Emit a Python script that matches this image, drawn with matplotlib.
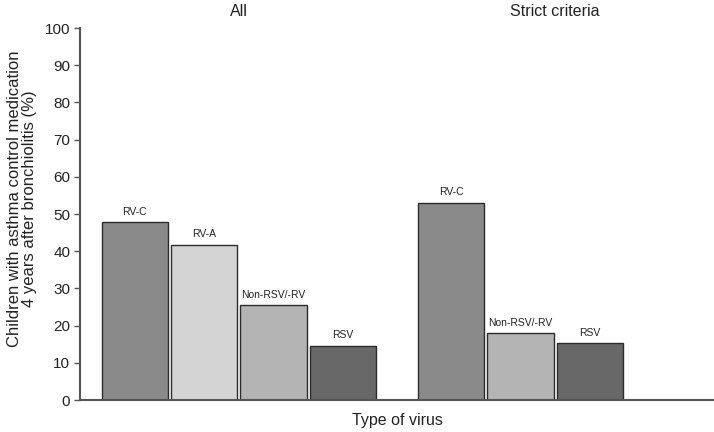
import matplotlib.pyplot as plt
import numpy as np

plt.rcParams['font.family'] = ['Liberation Sans', 'DejaVu Sans']

# data
groups = ["All", "Strict criteria"]
all_labels = ["RV-C", "RV-A", "Non-RSV/-RV", "RSV"]
all_values = [47.8, 41.7, 25.5, 14.6]
strict_labels = ["RV-C", "Non-RSV/-RV", "RSV"]
strict_values = [53.0, 17.9, 15.2]
yticks = list(range(0, 101, 10))

colors = {"RV-C": "#8a8a8a", "RV-A": "#d4d4d4",
          "Non-RSV/-RV": "#b4b4b4", "RSV": "#686868"}

fig = plt.figure(figsize=(7.14, 4.32), dpi=100)
ax = fig.add_axes([0.112, 0.074, 0.888, 0.861])

width = 1.0
step = 1.05
starts = [0.83, 5.62]

for g, (labels, vals, x0) in enumerate(zip([all_labels, strict_labels],
                                          [all_values, strict_values], starts)):
    xs = x0 + step * np.arange(len(vals))
    ax.bar(xs, vals, width=width, color=[colors[l] for l in labels],
           edgecolor="#2b2b2b", linewidth=1.0)
    for x, v, l in zip(xs, vals, labels):
        ax.text(x, v + 1.5, l, ha="center", va="bottom", fontsize=7.5, color="#222222")
    # group title centred over four slots (RV-A is missing in the strict group)
    ax.text(x0 + 1.5 * step, 1.025, groups[g], transform=ax.get_xaxis_transform(),
            ha="center", va="bottom", fontsize=11.5, color="#222222")

ax.set_xlim(0, 9.6)
ax.set_ylim(0, 100)
ax.set_yticks(yticks)
ax.set_xticks([])
ax.tick_params(axis="y", direction="out", length=4, width=1, color="#555555",
               labelsize=11, labelcolor="#222222", pad=3)
for s in ["top", "right"]:
    ax.spines[s].set_visible(False)
for s in ["left", "bottom"]:
    ax.spines[s].set_color("#555555")
    ax.spines[s].set_linewidth(1.5)

ax.set_xlabel("Type of virus", fontsize=11.5, color="#222222", labelpad=9)
ax.set_ylabel("Children with asthma control medication\n4 years after bronchiolitis (%)",
              fontsize=12, color="#222222", linespacing=1.0)
ax.yaxis.set_label_coords(-0.068, 0.54)

fig.savefig("out.png", dpi=100)
